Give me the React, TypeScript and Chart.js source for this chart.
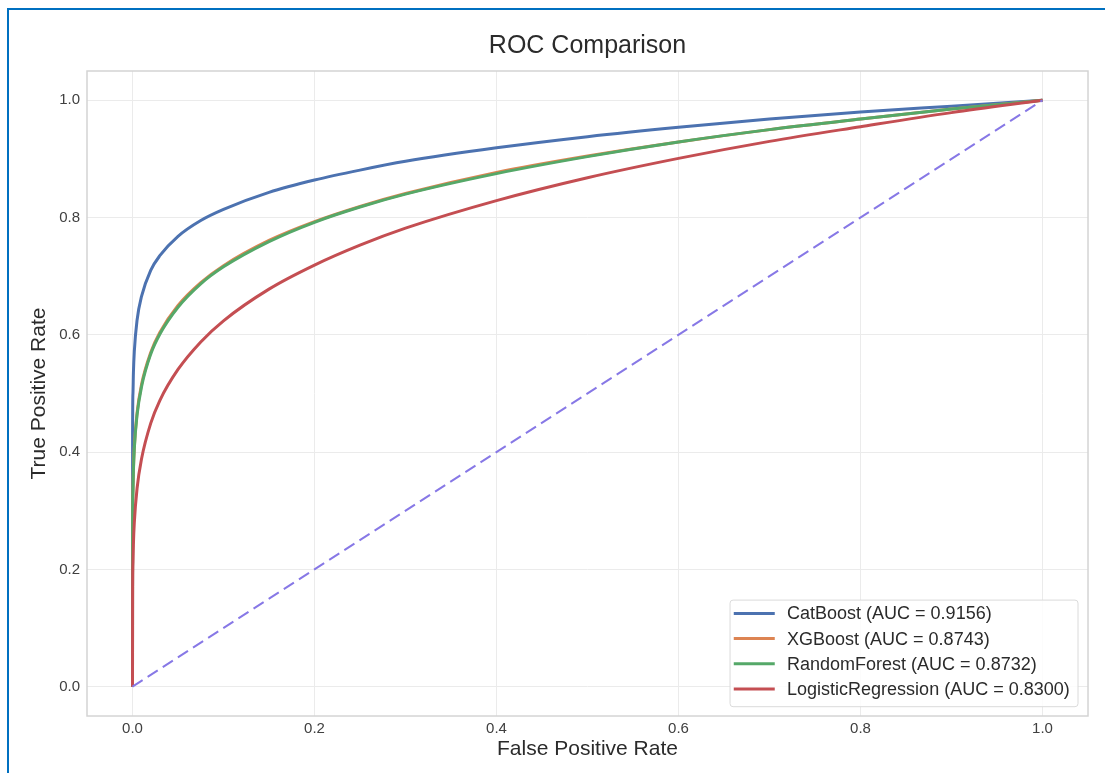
import React, { useEffect, useRef } from 'react';
import { Chart, registerables } from 'chart.js';

Chart.register(...registerables);

// ---- data ----
const FPR = [0, 0.0001, 0.0005, 0.001, 0.002, 0.005, 0.01, 0.02, 0.03, 0.05, 0.075, 0.1, 0.15, 0.2, 0.25, 0.3, 0.4, 0.5, 0.6, 0.7, 0.8, 0.9, 1.0];
const TPR_CATBOOST = [0, 0.430, 0.500, 0.535, 0.572, 0.625, 0.666, 0.710, 0.735, 0.768, 0.795, 0.814, 0.843, 0.864, 0.881, 0.896, 0.919, 0.938, 0.954, 0.968, 0.980, 0.990, 1.0];
const TPR_XGBOOST = [0, 0.266, 0.335, 0.370, 0.409, 0.467, 0.516, 0.570, 0.604, 0.650, 0.689, 0.718, 0.761, 0.793, 0.819, 0.841, 0.877, 0.905, 0.929, 0.950, 0.968, 0.985, 1.0];
const TPR_RANDOMFOREST = [0, 0.263, 0.332, 0.367, 0.406, 0.463, 0.512, 0.567, 0.601, 0.647, 0.687, 0.716, 0.759, 0.792, 0.818, 0.840, 0.875, 0.904, 0.929, 0.950, 0.968, 0.985, 1.0];
const TPR_LOGREG = [0, 0.152, 0.211, 0.243, 0.280, 0.338, 0.389, 0.449, 0.488, 0.541, 0.588, 0.624, 0.678, 0.719, 0.753, 0.782, 0.829, 0.868, 0.901, 0.930, 0.955, 0.979, 1.0];
const DIAG_X = [0, 1];
const DIAG_Y = [0, 1];

const MODEL_NAMES = ['CatBoost', 'XGBoost', 'RandomForest', 'LogisticRegression'];
const MODEL_AUC = [0.9156, 0.8743, 0.8732, 0.83];
const MODEL_COLORS = ['#4C72B0', '#DD8452', '#55A868', '#C44E52'];
const TICKS = [0, 0.2, 0.4, 0.6, 0.8, 1.0];

const TITLE = 'ROC Comparison';
const X_TITLE = 'False Positive Rate';
const Y_TITLE = 'True Positive Rate';

const FONT = '"Liberation Sans", Arial, sans-serif';
const TEXT = '#2b2b2b';
const TICK_TEXT = '#404040';
const GRID = '#ebebeb';
const FRAME = '#d4d4d4';

const pts = (xs: number[], ys: number[]) => xs.map((x, i) => ({ x, y: ys[i] }));

const decorPlugin = {
  id: 'decor',
  beforeDatasetsDraw(chart: any) {
    const { ctx, chartArea: a } = chart;
    ctx.save();
    ctx.strokeStyle = FRAME;
    ctx.lineWidth = 1.5;
    ctx.strokeRect(a.left, a.top, a.right - a.left, a.bottom - a.top);
    ctx.restore();
  },
  afterDatasetsDraw(chart: any) {
    const { ctx, chartArea: a } = chart;
    const ds = chart.data.datasets.filter((d: any) => !d.isDiagonal);
    ctx.save();
    ctx.font = `18px ${FONT}`;
    const maxW = Math.max(...ds.map((d: any) => ctx.measureText(d.label).width));
    const rowH = 25.2;
    const padL = 3.7, handle = 41, gap = 12.3, padR = 8.3;
    const w = padL + handle + gap + maxW + padR;
    const h = 13.3 + rowH * (ds.length - 1) + 17.7;
    const right = a.right - 10;
    const bottom = a.bottom - 9.3;
    const left = right - w;
    const top = bottom - h;
    ctx.beginPath();
    ctx.roundRect(left, top, w, h, 3);
    ctx.fillStyle = 'rgba(255,255,255,0.85)';
    ctx.fill();
    ctx.strokeStyle = '#dadada';
    ctx.lineWidth = 1;
    ctx.stroke();
    ds.forEach((d: any, i: number) => {
      const cy = top + 13.3 + i * rowH;
      ctx.beginPath();
      ctx.strokeStyle = d.borderColor;
      ctx.lineWidth = 3;
      ctx.moveTo(left + padL, cy);
      ctx.lineTo(left + padL + handle, cy);
      ctx.stroke();
      ctx.fillStyle = TEXT;
      ctx.textBaseline = 'middle';
      ctx.textAlign = 'left';
      ctx.fillText(d.label, left + padL + handle + gap, cy + 1);
    });
    ctx.restore();
  },
  afterDraw(chart: any) {
    const { ctx, chartArea: a } = chart;
    ctx.save();
    ctx.font = `25px ${FONT}`;
    ctx.fillStyle = TEXT;
    ctx.textAlign = 'center';
    ctx.textBaseline = 'alphabetic';
    ctx.fillText(TITLE, (a.left + a.right) / 2, 53.3);
    ctx.restore();
  },
};

export default function App() {
  const ref = useRef<HTMLCanvasElement | null>(null);

  useEffect(() => {
    if (!ref.current) return;
    const modelTpr = [TPR_CATBOOST, TPR_XGBOOST, TPR_RANDOMFOREST, TPR_LOGREG];
    const datasets: any[] = MODEL_NAMES.map((name, i) => ({
      label: `${name} (AUC = ${MODEL_AUC[i].toFixed(4)})`,
      data: pts(FPR, modelTpr[i]),
      borderColor: MODEL_COLORS[i],
      backgroundColor: MODEL_COLORS[i],
      borderWidth: 3,
      pointRadius: 0,
      fill: false,
      cubicInterpolationMode: 'monotone',
      order: 4 - i,
    }));
    datasets.push({
      label: 'Chance',
      isDiagonal: true,
      data: pts(DIAG_X, DIAG_Y),
      borderColor: '#8778e6',
      borderWidth: 2,
      borderDash: [12, 6],
      pointRadius: 0,
      fill: false,
      order: 0,
    });

    const chart = new Chart(ref.current, {
      type: 'line',
      data: { datasets },
      plugins: [decorPlugin],
      options: {
        animation: false,
        responsive: false,
        events: [],
        layout: { padding: { top: 71, right: 17, left: 0, bottom: 0 } },
        plugins: {
          legend: { display: false },
          title: { display: false },
          tooltip: { enabled: false },
        },
        scales: {
          x: {
            type: 'linear',
            min: -0.05,
            max: 1.05,
            afterBuildTicks: (s: any) => {
              s.ticks = TICKS.map((v) => ({ value: v }));
            },
            afterFit: (s: any) => {
              s.height = 57;
            },
            ticks: {
              callback: (v: any) => Number(v).toFixed(1),
              padding: 4,
              color: TICK_TEXT,
              font: { family: FONT, size: 15 },
              maxRotation: 0,
              autoSkip: false,
            },
            grid: { color: GRID, lineWidth: 1, drawTicks: false },
            border: { display: false },
            title: {
              display: true,
              text: X_TITLE,
              color: TEXT,
              font: { family: FONT, size: 21 },
              padding: { top: 0, bottom: 10.7 },
            },
          },
          y: {
            type: 'linear',
            min: -0.05,
            max: 1.05,
            afterBuildTicks: (s: any) => {
              s.ticks = TICKS.map((v) => ({ value: v }));
            },
            afterFit: (s: any) => {
              s.width = 87;
            },
            ticks: {
              callback: (v: any) => Number(v).toFixed(1),
              padding: 7,
              color: TICK_TEXT,
              font: { family: FONT, size: 15 },
              autoSkip: false,
            },
            grid: { color: GRID, lineWidth: 1, drawTicks: false },
            border: { display: false },
            title: {
              display: true,
              text: Y_TITLE,
              color: TEXT,
              font: { family: FONT, size: 21 },
              padding: { top: 26.4, bottom: 0 },
            },
          },
        },
      } as any,
    });
    return () => chart.destroy();
  }, []);

  return (
    <>
      <div style={{ position: 'fixed', left: 0, top: 0, width: 1105, height: 773, background: '#fff' }}>
        <canvas ref={ref} width={1105} height={773} style={{ display: 'block', width: 1105, height: 773 }} />
      </div>
      <div
        style={{
          position: 'fixed',
          left: 7,
          top: 8,
          right: 0,
          bottom: 0,
          borderLeft: '2px solid #0070C0',
          borderTop: '2px solid #0070C0',
          pointerEvents: 'none',
        }}
      />
    </>
  );
}
